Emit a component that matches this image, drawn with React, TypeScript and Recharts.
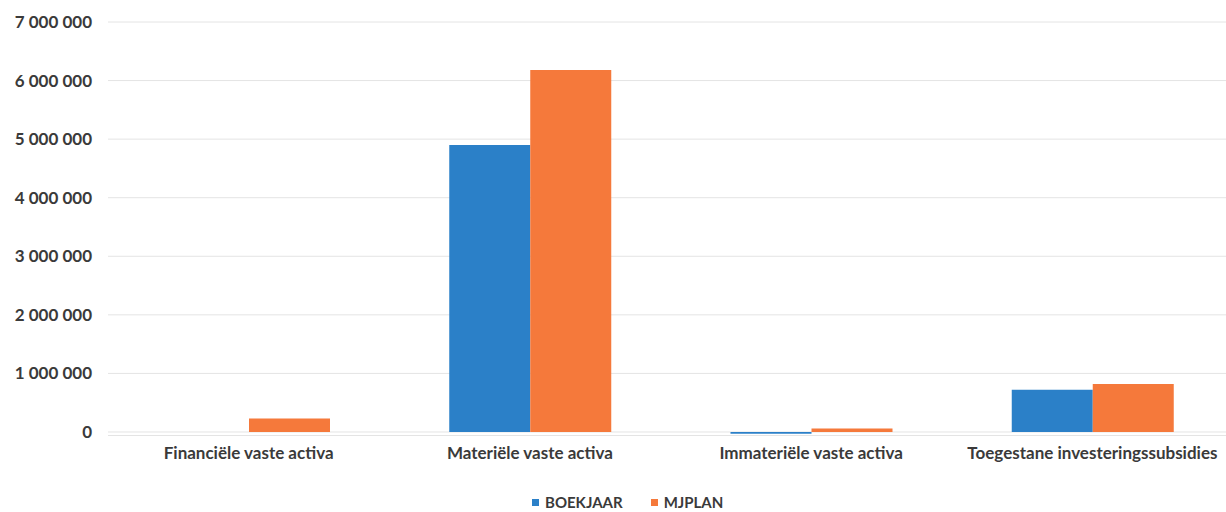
import React from "react";
import { BarChart, Bar, XAxis, YAxis, CartesianGrid, Legend } from "recharts";

const categories = [
  "Financiële vaste activa",
  "Materiële vaste activa",
  "Immateriële vaste activa",
  "Toegestane investeringssubsidies",
];
const boekjaar = [0, 4900000, -30000, 720000];
const mjplan = [230000, 6180000, 60000, 820000];
const yTicks = [0, 1000000, 2000000, 3000000, 4000000, 5000000, 6000000, 7000000];

const BLUE = "#2b80c8";
const ORANGE = "#f5793b";
const TEXT = "#3a3a3a";
const FONT = "Lato, 'Open Sans', sans-serif";

const data = categories.map((name, i) => ({
  name,
  BOEKJAAR: boekjaar[i],
  MJPLAN: mjplan[i],
}));

const fmt = (v: number) =>
  v === 0 ? "0" : String(v).replace(/\B(?=(\d{3})+(?!\d))/g, " ");

const LegendContent = () => (
  <div
    style={{
      height: 20,
      display: "flex",
      alignItems: "center",
      fontFamily: FONT,
      fontWeight: 700,
      fontSize: 15,
      color: TEXT,
      paddingLeft: 532,
    }}
  >
    {[
      { label: "BOEKJAAR", color: BLUE },
      { label: "MJPLAN", color: ORANGE },
    ].map((it) => (
      <div key={it.label} style={{ display: "flex", alignItems: "center", marginRight: 28 }}>
        <span style={{ width: 7, height: 7, background: it.color, display: "inline-block", marginRight: 6 }} />
        <span>{it.label}</span>
      </div>
    ))}
  </div>
);

export default function App() {
  return (
    <div style={{ position: "absolute", left: 0, top: 0, width: 1226, height: 512, overflow: "hidden", background: "#fff" }}>
      <BarChart
        width={1240}
        height={512}
        data={data}
        margin={{ top: 22, right: 7, bottom: 16.5, left: 0 }}
        barGap={0}
        barSize={81}
      >
        <CartesianGrid horizontal vertical={false} stroke="#e4e4e4" />
        <XAxis
          dataKey="name"
          axisLine={false}
          tickLine={false}
          height={40}
          tickMargin={5}
          interval={0}
          tick={{ fill: TEXT, fontFamily: FONT, fontWeight: 700, fontSize: 17 }}
        />
        <YAxis
          width={108}
          domain={[-60000, 7000000]}
          ticks={yTicks}
          axisLine={false}
          tickLine={false}
          tickMargin={10}
          tickFormatter={fmt}
          tick={{ fill: TEXT, fontFamily: FONT, fontWeight: 700, fontSize: 17 }}
        />
        <Legend verticalAlign="bottom" wrapperStyle={{ bottom: 0, left: 0 }} content={<LegendContent />} />
        <Bar dataKey="BOEKJAAR" fill={BLUE} isAnimationActive={false} />
        <Bar dataKey="MJPLAN" fill={ORANGE} isAnimationActive={false} />
      </BarChart>
    </div>
  );
}
